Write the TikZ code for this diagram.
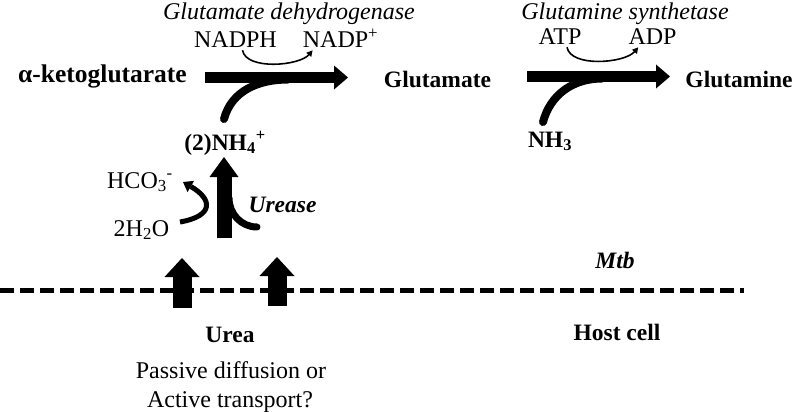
\documentclass[tikz,border=0pt]{standalone}
\usepackage{fontspec}
\setmainfont{Liberation Serif}
\usetikzlibrary{arrows.meta}
\tikzstyle{pixelPlane} = [x = 1pt, y = 1pt]
\tikzstyle{metaboliteText} = [font=\fontsize{23.5}{26}\selectfont\bfseries, inner sep=0pt, anchor=base]
\tikzstyle{cofactorText} = [font=\fontsize{24}{27}\selectfont, inner sep=0pt, anchor=base]
\tikzstyle{enzymeText} = [font=\fontsize{24}{27}\selectfont\itshape, inner sep=0pt, anchor=base]
\tikzstyle{enzymeBoldText} = [font=\fontsize{23.5}{26}\selectfont\bfseries\itshape, inner sep=0pt, anchor=base]
\tikzstyle{reactionArrow} = [line width=11pt, -{Triangle[width=24pt, length=14pt, line width=0pt]}]
\tikzstyle{ureaseArrow} = [line width=15pt, -{Triangle[width=29pt, length=20pt, line width=0pt]}]
\tikzstyle{uptakeArrow} = [line width=19pt, -{Triangle[width=35pt, length=19pt, line width=0pt]}]
\tikzstyle{swooshLine} = [line width=8pt, line cap=round]
\tikzstyle{cofactorArc} = [line width=1.6pt, -{Triangle[width=6pt, length=6pt]}]
\tikzstyle{waterArrow} = [line width=5pt, -{Triangle[width=13pt, length=9pt, line width=0pt]}]
\tikzstyle{membraneLine} = [line width=5pt, dash pattern=on 14pt off 6pt]
\newcommand{\cofactorSwap}[2]{\draw [cofactorArc] ([xshift=7pt, yshift=-2pt]#1.south) to[out=-80, in=-130, looseness=.75] ([xshift=10pt, yshift=-2pt]#2.south west);}

\begin{document}
\begin{tikzpicture}[pixelPlane]
    \useasboundingbox (0,0) rectangle (800,-412);
    % enzymes and cofactors
    \node [enzymeText] (gdh) at (289,-20) {Glutamate dehydrogenase};
    \node [enzymeText] (gs) at (625,-20) {Glutamine synthetase};
    \node [cofactorText] (nadph) at (235.5,-48) {NADPH};
    \node [cofactorText] (nadp) at (340.5,-48) {NADP\textsuperscript{+}};
    \node [cofactorText] (atp) at (560,-45) {ATP};
    \node [cofactorText] (adp) at (652.5,-45) {ADP};
    % metabolites
    \node [metaboliteText, font=\fontsize{25.5}{28}\selectfont\bfseries] (akg) at (102.5,-82) {α-ketoglutarate};
    \node [metaboliteText] (glu) at (437.5,-87) {Glutamate};
    \node [metaboliteText] (gln) at (739,-88) {Glutamine};
    \node [metaboliteText] (nh4) at (225,-150) {(2)NH\textsubscript{4}\textsuperscript{+}};
    \node [metaboliteText] (nh3) at (550,-147) {NH\textsubscript{3}};
    \node [cofactorText] (hco3) at (140,-188) {HCO\textsubscript{3}\textsuperscript{-}};
    \node [cofactorText] (water) at (141.5,-236) {2H\textsubscript{2}O};
    \node [enzymeBoldText] (urease) at (282.5,-212) {Urease};
    \node [enzymeBoldText] (mtb) at (615,-268) {Mtb};
    \node [metaboliteText] (host) at (617,-340) {Host cell};
    \node [metaboliteText] (urea) at (230,-342) {Urea};
    \node [cofactorText] (passive) at (231,-378) {Passive diffusion or};
    \node [cofactorText] (active) at (230,-407) {Active transport?};
    % arrow ends
    \coordinate (gdhStart) at (205,-77.5);
    \coordinate (gdhEnd) at (348,-77.5);
    \coordinate (gdhJoin) at (288,-79.5);
    \coordinate (nh4Tail) at (224,-119);
    \coordinate (gsStart) at (527,-76.5);
    \coordinate (gsEnd) at (670,-76.5);
    \coordinate (gsJoin) at (602,-78.5);
    \coordinate (nh3Tail) at (543,-122);
    \coordinate (ureaseStart) at (224,-238);
    \coordinate (ureaseEnd) at (224,-157);
    \coordinate (ureaseTail) at (257,-227);
    \coordinate (ureaseJoin) at (229,-198);
    \coordinate (waterTail) at (180,-222);
    \coordinate (hco3Tip) at (183,-182);
    \coordinate (poreA) at (182,-308);
    \coordinate (poreATip) at (182,-258);
    \coordinate (poreB) at (277,-306);
    \coordinate (poreBTip) at (277,-257);
    \coordinate (membraneLeft) at (0,-290.5);
    \coordinate (membraneRight) at (744,-290.5);
    % reactions
    \draw [reactionArrow] (gdhStart) -- (gdhEnd);
    \draw [swooshLine] (nh4Tail) to[out=75, in=180] (gdhJoin);
    \cofactorSwap{nadph}{nadp}
    \draw [reactionArrow] (gsStart) -- (gsEnd);
    \draw [swooshLine] (nh3Tail) to[out=75, in=180] (gsJoin);
    \cofactorSwap{atp}{adp}
    \draw [ureaseArrow] (ureaseStart) -- (ureaseEnd);
    \draw [swooshLine, line width=7pt] (ureaseTail) to[out=180, in=-90] (ureaseJoin);
    \draw [waterArrow] (waterTail) to[out=10, in=-30, looseness=2.2] (hco3Tip);
    % membrane and uptake
    \draw [membraneLine] (membraneLeft) -- (membraneRight);
    \draw [uptakeArrow] (poreA) -- (poreATip);
    \draw [uptakeArrow] (poreB) -- (poreBTip);
\end{tikzpicture}
\end{document}
